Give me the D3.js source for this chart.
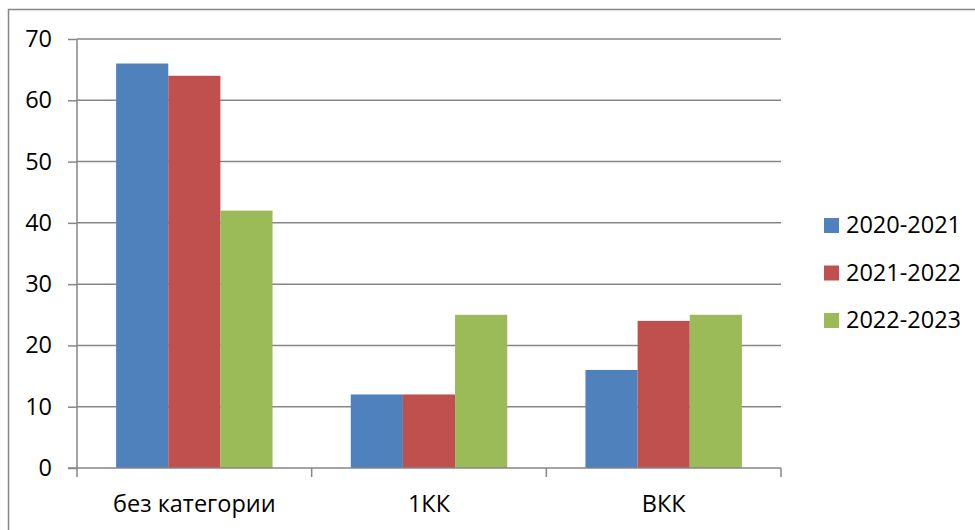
<!DOCTYPE html>
<html>
<head>
<meta charset="utf-8">
<script src="https://cdn.jsdelivr.net/npm/d3@7"></script>
<style>
  html, body { margin: 0; padding: 0; background: #fff; }
  svg { display: block; }
</style>
</head>
<body>
<svg id="chart" width="975" height="530"></svg>
<script>
// Data
const categories = ['без категории', '1КК', 'ВКК'];
const seriesNames = ['2020-2021', '2021-2022', '2022-2023'];
const values2020 = [66, 12, 16];
const values2021 = [64, 12, 24];
const values2022 = [42, 25, 25];
const yTicks = [0, 10, 20, 30, 40, 50, 60, 70];

const seriesColors = ['#4f81bd', '#c0504d', '#9bbb59'];
const gridColor = '#868686';
const fontFamily = '"Open Sans", sans-serif';
const fontSize = '23.5px';

const svg = d3.select('#chart');

// Outer chart frame (only top and left edges fall inside the picture)
svg.append('rect')
  .attr('x', 8.5)
  .attr('y', 9.5)
  .attr('width', 1000)
  .attr('height', 1000)
  .style('fill', 'none')
  .style('stroke', gridColor)
  .style('stroke-width', 1.5);

const plot = { left: 77, right: 781, top: 39, bottom: 468 };

const x = d3.scaleBand()
  .domain(categories)
  .range([plot.left, plot.right]);

// gap width 150% -> bars cover 3 / (3 + 1.5) of each band
const groupWidth = x.bandwidth() * 3 / 4.5;
const xInner = d3.scaleBand()
  .domain(seriesNames)
  .range([0, groupWidth]);

const y = d3.scaleLinear()
  .domain([0, 70])
  .range([plot.bottom, plot.top]);

// Gridlines
svg.append('g')
  .selectAll('line')
  .data(yTicks.filter(d => d > 0))
  .join('line')
  .attr('x1', plot.left)
  .attr('x2', plot.right)
  .attr('y1', d => y(d))
  .attr('y2', d => y(d))
  .style('stroke', gridColor)
  .style('stroke-width', 1.5);

// Bars
const rows = categories.map((c, i) => ({
  category: c,
  values: [values2020[i], values2021[i], values2022[i]]
}));

const groups = svg.append('g')
  .selectAll('g')
  .data(rows)
  .join('g')
  .attr('transform', d => `translate(${x(d.category) + (x.bandwidth() - groupWidth) / 2}, 0)`);

groups.selectAll('rect')
  .data(d => d.values.map((v, j) => ({ name: seriesNames[j], value: v, j: j })))
  .join('rect')
  .attr('x', d => xInner(d.name))
  .attr('y', d => y(d.value))
  .attr('width', xInner.bandwidth())
  .attr('height', d => y(0) - y(d.value))
  .style('fill', d => seriesColors[d.j]);

// Y axis
const yAxis = d3.axisLeft(y)
  .tickValues(yTicks)
  .tickSize(9)
  .tickPadding(16)
  .tickFormat(d3.format('d'));

const yG = svg.append('g')
  .attr('transform', `translate(${plot.left}, 0)`)
  .call(yAxis);

yG.select('.domain').remove();
yG.append('line')
  .attr('x1', 0).attr('x2', 0)
  .attr('y1', plot.top).attr('y2', plot.bottom);

// X axis
const boundaries = categories.map(c => x(c)).concat([plot.right]);
const xG = svg.append('g');
xG.append('line')
  .attr('x1', plot.left - 9)
  .attr('x2', plot.right)
  .attr('y1', plot.bottom)
  .attr('y2', plot.bottom);
xG.selectAll('line.tick')
  .data(boundaries)
  .join('line')
  .attr('class', 'tick')
  .attr('x1', d => d).attr('x2', d => d)
  .attr('y1', plot.bottom).attr('y2', plot.bottom + 9);
xG.selectAll('text')
  .data(categories)
  .join('text')
  .attr('x', d => x(d) + x.bandwidth() / 2)
  .attr('y', 512)
  .attr('text-anchor', 'middle')
  .text(d => d);

svg.selectAll('line')
  .filter(function() { return !this.style.stroke; })
  .style('stroke', gridColor)
  .style('stroke-width', 1.5);

// Legend
const legend = svg.append('g')
  .attr('transform', 'translate(824, 225)');

const legendItems = legend.selectAll('g')
  .data(seriesNames)
  .join('g')
  .attr('transform', (d, i) => `translate(0, ${i * 47.5})`);

legendItems.append('rect')
  .attr('x', 0)
  .attr('y', -7)
  .attr('width', 15)
  .attr('height', 15)
  .style('fill', (d, i) => seriesColors[i]);

legendItems.append('text')
  .attr('x', 22)
  .attr('y', 0)
  .attr('dy', '0.36em')
  .text(d => d);

svg.selectAll('text')
  .style('font-family', fontFamily)
  .style('font-size', fontSize)
  .style('fill', '#000');
</script>
</body>
</html>
